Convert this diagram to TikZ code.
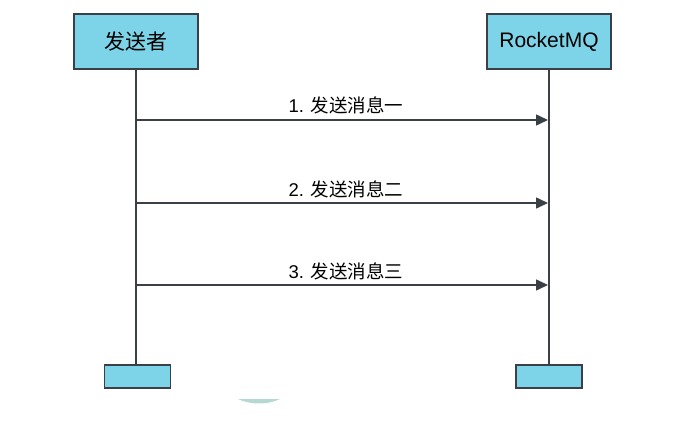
\documentclass[tikz,border=0pt]{standalone}
\usepackage{fontspec}
\setmainfont{Liberation Sans}
\newfontfamily\cjk{Noto Sans CJK SC}
\usetikzlibrary{arrows.meta}
\definecolor{boxfill}{HTML}{7DD4E8}
\definecolor{edge}{HTML}{3B4046}
\definecolor{arcgreen}{HTML}{B5D9D2}
\tikzset{
  actor/.style={draw=edge, fill=boxfill, line width=1.3pt, minimum width=124pt, minimum height=55pt, inner sep=0pt, font=\fontsize{21}{24}\selectfont},
  endbox/.style={draw=edge, fill=boxfill, line width=1.3pt, minimum width=66pt, minimum height=23pt, inner sep=0pt},
  life/.style={draw=edge, line width=2pt},
  msg/.style={draw=edge, line width=1.5pt, -{Triangle[length=12pt,width=11pt]}},
  lbl/.style={font=\fontsize{18.5}{21}\selectfont, text=black, inner sep=0pt}
}
\begin{document}
\begin{tikzpicture}[x=1pt,y=-1pt]
\useasboundingbox (0,0) rectangle (681,428);
\node[endbox] (lb) at (137.5,376.5) {};
\node[endbox] (rb) at (549,376.5) {};
\node[actor] (a) at (136,41.5) {\cjk 发送者};
\node[actor] (r) at (549,41.5) {RocketMQ};
\draw[life] (a.south) -- (lb.north -| a.south);
\draw[life] (r.south) -- (rb.north -| r.south);
\coordinate (s1) at (136,120); \coordinate (e1) at (548,120);
\coordinate (s2) at (136,203); \coordinate (e2) at (548,203);
\coordinate (s3) at (136,285); \coordinate (e3) at (548,285);
\draw[msg] (s1) -- (e1);
\draw[msg] (s2) -- (e2);
\draw[msg] (s3) -- (e3);
\node[lbl] (l1) at (346,105) {1. {\cjk 发送消息一}};
\node[lbl] (l2) at (346,189) {2. {\cjk 发送消息二}};
\node[lbl] (l3) at (346,271) {3. {\cjk 发送消息三}};
\fill[arcgreen] (238,399) .. controls (250,405) and (268,405) .. (280,399) -- cycle;
\end{tikzpicture}
\end{document}
